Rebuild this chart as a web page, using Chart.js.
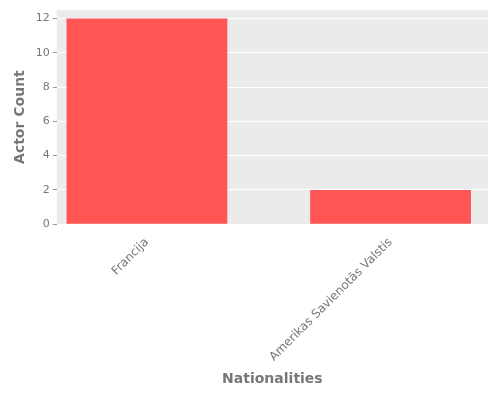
<!DOCTYPE html>
<html>
<head>
<meta charset="utf-8">
<script src="https://cdn.jsdelivr.net/npm/chart.js@4"></script>
<style>
  body { margin: 0; background: #fff; }
  #wrap { width: 500px; height: 400px; }
</style>
</head>
<body>
<div id="wrap"><canvas id="chart"></canvas></div>
<script>
const categories = ["Francija", "Amerikas Savienotās Valstis"];
const actorCounts = [12, 2];
const yTicks = [0, 2, 4, 6, 8, 10, 12];

// grey panel like ggplot
const panelBg = {
  id: "panelBg",
  beforeDraw(chart) {
    const a = chart.chartArea;
    const ctx = chart.ctx;
    ctx.save();
    ctx.fillStyle = "#ebebeb";
    ctx.fillRect(a.left, a.top, a.right - a.left, a.bottom - a.top);
    ctx.restore();
  }
};

Chart.defaults.font.family = "DejaVu Sans";
Chart.defaults.color = "#777";

new Chart(document.getElementById("chart"), {
  type: "bar",
  data: {
    datasets: [{
      data: actorCounts.map((v, i) => ({ x: i, y: v })),
      backgroundColor: "#ff5555",
      barPercentage: 0.66,
      categoryPercentage: 1
    }]
  },
  options: {
    responsive: true,
    maintainAspectRatio: false,
    animation: false,
    layout: { padding: { top: 10, right: 12, left: 8, bottom: 8 } },
    plugins: { legend: { display: false }, tooltip: { enabled: false } },
    scales: {
      x: {
        type: "linear",
        min: -0.37,
        max: 1.4,
        offset: false,
        afterBuildTicks(axis) { axis.ticks = categories.map((c, i) => ({ value: i })); },
        grid: { display: false },
        border: { display: false },
        ticks: {
          maxRotation: 45, minRotation: 45, font: { size: 12 }, color: "#777",
          callback: v => categories[v]
        },
        title: { display: true, text: "Nationalities", font: { size: 14, weight: "bold" }, color: "#777" }
      },
      y: {
        min: 0,
        max: 12.5,
        afterBuildTicks(axis) { axis.ticks = yTicks.map(v => ({ value: v })); },
        grid: { color: "#ffffff", lineWidth: 1, tickColor: "#999", tickLength: 4 },
        border: { display: false },
        ticks: { font: { size: 11 }, color: "#777" },
        title: { display: true, text: "Actor Count", font: { size: 14, weight: "bold" }, color: "#777" }
      }
    }
  },
  plugins: [panelBg]
});
</script>
</body>
</html>
